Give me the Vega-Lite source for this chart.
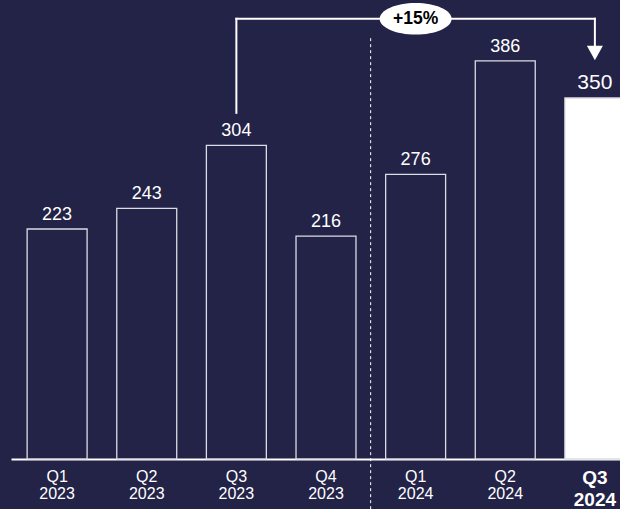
{
  "$schema": "https://vega.github.io/schema/vega-lite/v6.json",
  "width": 609,
  "height": 459,
  "autosize": {"type": "none"},
  "padding": {"left": 11, "top": 0, "right": 0, "bottom": 50},
  "background": "#232247",
  "config": {"view": {"stroke": null}, "font": "Liberation Sans"},
  "datasets": {
    "bars": [
      {"q": "Q1 2023", "v": 223, "cur": "no"},
      {"q": "Q2 2023", "v": 243, "cur": "no"},
      {"q": "Q3 2023", "v": 304, "cur": "no"},
      {"q": "Q4 2023", "v": 216, "cur": "no"},
      {"q": "Q1 2024", "v": 276, "cur": "no"},
      {"q": "Q2 2024", "v": 386, "cur": "no"},
      {"q": "Q3 2024", "v": 350, "cur": "yes"}
    ],
    "bracketV": [
      {"q": "Q3 2023", "y": 335.6, "y2": 426.8},
      {"q": "Q3 2024", "y": 426.8, "y2": 398}
    ],
    "bracketH": [{"q": "Q3 2023", "q2": "Q3 2024", "y": 426.8}],
    "arrow": [{"q": "Q3 2024", "y": 392.8}],
    "badge": [{"q": "Q1 2024", "y": 426.8, "t": "+15%"}],
    "divider": [{"q": "Q1 2024", "y": 408, "y2": -48.5}]
  },
  "encoding": {
    "x": {"field": "q", "type": "nominal",
      "scale": {"domain": ["Q1 2023","Q2 2023","Q3 2023","Q4 2023","Q1 2024","Q2 2024","Q3 2024"], "range": [0, 630], "paddingInner": 0.331, "paddingOuter": 0.18},
      "axis": {"title": null, "domainColor": "white", "domainWidth": 2, "ticks": false, "labels": false}}
  },
  "layer": [
    {
      "data": {"name": "divider"},
      "mark": {"type": "rule", "color": "white", "strokeWidth": 1, "strokeDash": [3, 3]},
      "encoding": {
        "x": {"field": "q", "type": "nominal", "bandPosition": -0.25},
        "y": {"field": "y", "type": "quantitative", "scale": {"domain": [0, 445], "nice": false}, "axis": null},
        "y2": {"field": "y2"}
      }
    },
    {
      "data": {"name": "bars"},
      "mark": {"type": "bar", "stroke": "#dcdce4", "strokeWidth": 1.3},
      "encoding": {
        "y": {"field": "v", "type": "quantitative"},
        "fill": {"condition": {"test": "datum.cur == 'yes'", "value": "white"}, "value": "#232247"}
      }
    },
    {
      "data": {"name": "bars"},
      "mark": {"type": "text", "color": "white", "baseline": "alphabetic", "dy": -9, "font": "Liberation Sans"},
      "encoding": {
        "y": {"field": "v", "type": "quantitative"},
        "text": {"field": "v", "type": "quantitative"},
        "size": {"condition": {"test": "datum.cur == 'yes'", "value": 21}, "value": 18}
      }
    },
    {
      "data": {"name": "bars"},
      "transform": [{"filter": "datum.cur == 'no'"}],
      "mark": {"type": "text", "color": "white", "baseline": "alphabetic", "align": "center", "lineBreak": " ", "lineHeight": 16.5, "fontSize": 16, "dy": 23, "font": "Liberation Sans"},
      "encoding": {
        "y": {"datum": 0, "type": "quantitative"},
        "text": {"field": "q"}
      }
    },
    {
      "data": {"name": "bars"},
      "transform": [{"filter": "datum.cur == 'yes'"}],
      "mark": {"type": "text", "color": "white", "baseline": "alphabetic", "align": "center", "lineBreak": " ", "lineHeight": 22, "fontSize": 19, "fontWeight": "bold", "dy": 25, "font": "Liberation Sans"},
      "encoding": {
        "y": {"datum": 0, "type": "quantitative"},
        "text": {"field": "q"}
      }
    },
    {
      "data": {"name": "bracketV"},
      "mark": {"type": "rule", "color": "white", "strokeWidth": 2, "strokeCap": "square"},
      "encoding": {
        "y": {"field": "y", "type": "quantitative"},
        "y2": {"field": "y2"}
      }
    },
    {
      "data": {"name": "bracketH"},
      "mark": {"type": "rule", "color": "white", "strokeWidth": 2, "strokeCap": "square"},
      "encoding": {
        "x2": {"field": "q2"},
        "y": {"field": "y", "type": "quantitative"}
      }
    },
    {
      "data": {"name": "arrow"},
      "mark": {"type": "point", "shape": "M-1,-1L1,-1L0,0.8Z", "filled": true, "color": "white", "opacity": 1, "size": 256},
      "encoding": {
        "y": {"field": "y", "type": "quantitative"}
      }
    },
    {
      "data": {"name": "badge"},
      "mark": {"type": "point", "shape": "M-1,0A1,0.44,0,1,0,1,0A1,0.44,0,1,0,-1,0Z", "filled": true, "color": "white", "opacity": 1, "size": 5184},
      "encoding": {
        "y": {"field": "y", "type": "quantitative"}
      }
    },
    {
      "data": {"name": "badge"},
      "mark": {"type": "text", "color": "black", "fontWeight": "bold", "fontSize": 17.5, "baseline": "middle", "align": "center", "font": "Liberation Sans"},
      "encoding": {
        "y": {"field": "y", "type": "quantitative"},
        "text": {"field": "t"}
      }
    }
  ]
}
